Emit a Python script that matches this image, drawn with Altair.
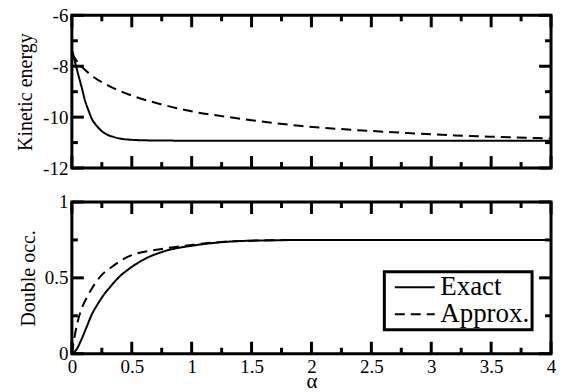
import altair as alt
import pandas as pd

# ---------------- data ----------------
series_names = ["Exact", "Approx."]

alpha_ke_exact = [0, 0.03, 0.06, 0.083, 0.11, 0.14, 0.17, 0.2, 0.25, 0.3, 0.35, 0.4, 0.5, 0.6, 0.8, 1.0, 2.0, 3.0, 4.0]
ke_exact = [-7.35, -7.9, -8.45, -8.85, -9.35, -9.75, -10.1, -10.3, -10.55, -10.7, -10.78, -10.84, -10.89, -10.91, -10.92, -10.93, -10.93, -10.93, -10.93]

alpha_ke_approx = [0, 0.05, 0.1, 0.19, 0.3, 0.47, 0.75, 1.03, 1.25, 1.5, 1.92, 2.25, 2.75, 3.2, 3.58, 4.0]
ke_approx = [-7.5, -7.85, -8.1, -8.45, -8.75, -9.1, -9.5, -9.8, -9.96, -10.12, -10.35, -10.47, -10.61, -10.72, -10.78, -10.84]

alpha_d_exact = [0, 0.04, 0.083, 0.125, 0.167, 0.21, 0.25, 0.33, 0.4, 0.47, 0.61, 0.75, 1.03, 1.25, 1.5, 2.0, 3.0, 4.0]
d_exact = [0, 0.03, 0.10, 0.18, 0.26, 0.32, 0.37, 0.45, 0.51, 0.555, 0.625, 0.67, 0.715, 0.735, 0.745, 0.75, 0.75, 0.75]

alpha_d_approx = [0, 0.02, 0.042, 0.083, 0.125, 0.167, 0.25, 0.33, 0.47, 0.75, 1.03, 1.25, 1.5, 2.0, 3.0, 4.0]
d_approx = [0, 0.1, 0.19, 0.30, 0.37, 0.43, 0.52, 0.57, 0.64, 0.69, 0.72, 0.737, 0.745, 0.75, 0.75, 0.75]

x_major = [0, 0.5, 1, 1.5, 2, 2.5, 3, 3.5, 4]
x_minor = [0.25, 0.75, 1.25, 1.75, 2.25, 2.75, 3.25, 3.75]
ke_major = [-12, -10, -8, -6]
ke_minor = [-11, -9, -7]
d_major = [0, 0.5, 1]
d_minor = [0.25, 0.75]

# ---------------- chart ----------------
FONT = "Liberation Serif"
W, H1, H2 = 480, 153, 152
MAJ, MIN = 12, 6
LBL, TTL = 19, 20

xscale = alt.Scale(domain=[0, 4], nice=False, zero=False)
dash_scale = alt.Scale(domain=series_names, range=[[1, 0], [10, 6]])

common = dict(labelExpr="'' + datum.value", ticks=False, domain=False, grid=False,
              labelFont=FONT, titleFont=FONT, labelFontSize=LBL,
              labelColor="black", titleColor="black", titleFontWeight="normal")

top_x_axis = None
bot_x_axis = alt.Axis(values=x_major, labelOverlap=False, labelFlush=False, labelBound=False,
                      title="α", titleFontSize=21, titlePadding=-6, labelPadding=4, **common)
ke_axis = alt.Axis(values=ke_major, title="Kinetic energy", titleFontSize=TTL,
                   titlePadding=7, labelPadding=4, **common)
d_axis = alt.Axis(values=d_major, title="Double occ.", titleFontSize=TTL,
                  titlePadding=6, labelPadding=4, **common)


def tick_layers(ymaj, ymin, yscale, yaxis, xaxis, h):
    layers = []
    for vals, L in [(x_major, MAJ), (x_minor, MIN)]:
        base = alt.Chart(pd.DataFrame({"t": vals})).mark_rule(color="black", strokeWidth=3)
        xe = alt.X("t:Q", scale=xscale, axis=xaxis)
        layers.append(base.encode(x=xe, y=alt.value(0), y2=alt.value(L)))
        layers.append(base.encode(x=xe, y=alt.value(h), y2=alt.value(h - L)))
    for vals, L in [(ymaj, MAJ), (ymin, MIN)]:
        base = alt.Chart(pd.DataFrame({"t": vals})).mark_rule(color="black", strokeWidth=3)
        ye = alt.Y("t:Q", scale=yscale, axis=yaxis)
        layers.append(base.encode(y=ye, x=alt.value(0), x2=alt.value(L)))
        layers.append(base.encode(y=ye, x=alt.value(W), x2=alt.value(W - L)))
    return layers


def frame(a1, v1, a2, v2):
    return pd.concat([
        pd.DataFrame({"alpha": a1, "val": v1, "series": series_names[0]}),
        pd.DataFrame({"alpha": a2, "val": v2, "series": series_names[1]}),
    ])


# top panel
ke_scale = alt.Scale(domain=[-12, -6], nice=False, zero=False)
top_lines = alt.Chart(frame(alpha_ke_exact, ke_exact, alpha_ke_approx, ke_approx)).mark_line(
    color="black", strokeWidth=2, interpolate="monotone"
).encode(
    x=alt.X("alpha:Q", scale=xscale, axis=top_x_axis),
    y=alt.Y("val:Q", scale=ke_scale, axis=ke_axis),
    strokeDash=alt.StrokeDash("series:N", scale=dash_scale, legend=None),
)
top = alt.layer(top_lines, *tick_layers(ke_major, ke_minor, ke_scale, ke_axis, top_x_axis, H1)).properties(width=W, height=H1)

# bottom panel
d_scale = alt.Scale(domain=[0, 1], nice=False, zero=False)
bot_lines = alt.Chart(frame(alpha_d_exact, d_exact, alpha_d_approx, d_approx)).mark_line(
    color="black", strokeWidth=2, interpolate="monotone"
).encode(
    x=alt.X("alpha:Q", scale=xscale, axis=bot_x_axis),
    y=alt.Y("val:Q", scale=d_scale, axis=d_axis),
    strokeDash=alt.StrokeDash("series:N", scale=dash_scale, legend=alt.Legend(
        orient="none", legendX=313, legendY=70, title=None,
        symbolType="M-0.5,0H3.5", symbolSize=400, symbolStrokeWidth=2, symbolStrokeColor="black",
        labelFontSize=27, labelFont=FONT, labelColor="black", strokeColor="black",
        padding=2, rowPadding=-2, labelOffset=27, labelLimit=300)),
)
bottom = alt.layer(bot_lines, *tick_layers(d_major, d_minor, d_scale, d_axis, bot_x_axis, H2)).properties(width=W, height=H2)

chart = alt.vconcat(top, bottom, spacing=11).resolve_scale(strokeDash="independent").properties(
    padding={"left": 14, "top": 4, "right": 10, "bottom": 0}
).configure(font=FONT).configure_view(
    stroke="black", strokeWidth=3
).configure_legend(strokeWidth=3, labelFontSize=27)

chart.save("out.html", embed_options={"renderer": "svg", "actions": False})
